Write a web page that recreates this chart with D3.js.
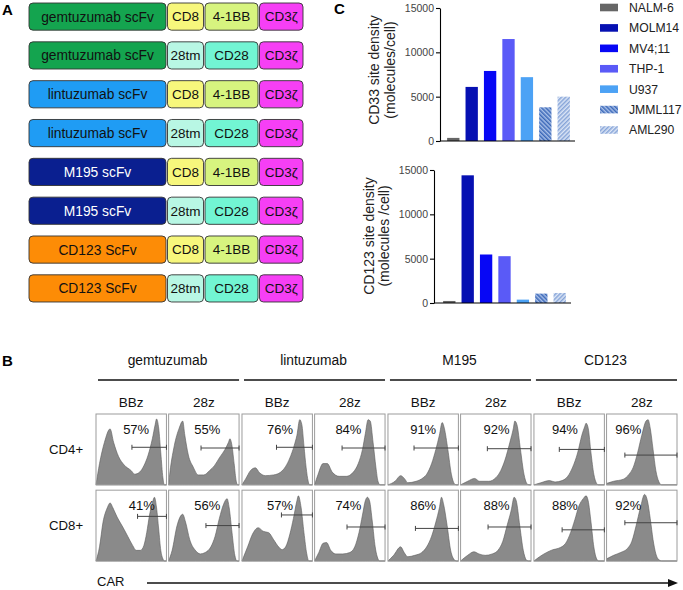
<!DOCTYPE html>
<html>
<head>
<meta charset="utf-8">
<script src="https://cdn.jsdelivr.net/npm/d3@7"></script>
<style>
    body { margin: 0; background: #fff; }
    svg { font-family: "Liberation Sans", Arial, Helvetica, sans-serif; }
</style>
</head>
<body>
<svg id="fig" width="683" height="590"></svg>
<script>
// ---- panel A: CAR constructs ----
const scfvNames = ["gemtuzumab scFv", "gemtuzumab scFv", "lintuzumab scFv", "lintuzumab scFv",
    "M195 scFv", "M195 scFv", "CD123 ScFv", "CD123 ScFv"];
const hingeNames = ["CD8", "28tm", "CD8", "28tm", "CD8", "28tm", "CD8", "28tm"];
const costimNames = ["4-1BB", "CD28", "4-1BB", "CD28", "4-1BB", "CD28", "4-1BB", "CD28"];
const signalNames = ["CD3ζ", "CD3ζ", "CD3ζ", "CD3ζ", "CD3ζ", "CD3ζ", "CD3ζ", "CD3ζ"];

// ---- panel C: site density ----
const cellLines = ["NALM-6", "MOLM14", "MV4;11", "THP-1", "U937", "JMML117", "AML290"];
const cd33Density = [350, 6100, 7900, 11500, 7200, 3800, 5000];
const cd123Density = [230, 14400, 5470, 5280, 380, 1060, 1130];
const densityTicks = [0, 5000, 10000, 15000];

// ---- panel B: CAR expression histograms ----
const antibodies = ["gemtuzumab", "lintuzumab", "M195", "CD123"];
const domains = ["BBz", "28z"];
const subsets = ["CD4+", "CD8+"];
const cd4Pct = [57, 55, 76, 84, 91, 92, 94, 96];
const cd8Pct = [41, 56, 57, 74, 86, 88, 88, 92];
// gate start (% of axis) and drawn height (fraction of panel)
const cd4Gate = [[51, 0.53], [46, 0.52], [49, 0.53], [39, 0.52], [37, 0.52], [38, 0.51], [36, 0.5], [26, 0.42]];
const cd8Gate = [[59, 0.63], [53, 0.5], [56, 0.65], [46, 0.48], [39, 0.46], [39, 0.48], [40, 0.44], [26, 0.54]];
const cd4LabelX = [57, 55, 54, 48, 50, 51, 44, 31];
const cd8LabelX = [65, 55, 54, 48, 50, 51, 44, 31];
// histogram outlines: [CAR position %, relative count]
const cd4Hist = [
    [[0,0],[5,0.3],[12,0.6],[20,0.79],[25,0.6],[32,0.4],[40,0.28],[50,0.2],[55,0.15],[62,0.18],[68,0.27],[74,0.42],[80,0.65],[84,0.85],[86,0.93],[89,0.8],[92,0.45],[95,0.1],[97,0],[100,0]],
    [[0,0],[1,0.1],[8,0.55],[15,0.8],[20,0.9],[23,0.7],[28,0.42],[35,0.25],[42,0.14],[50,0.14],[58,0.2],[65,0.27],[72,0.38],[80,0.5],[85,0.6],[87,0.65],[90,0.55],[93,0.3],[96,0.05],[98,0],[100,0]],
    [[0,0],[5,0.08],[12,0.2],[19,0.24],[25,0.17],[33,0.13],[45,0.14],[55,0.18],[62,0.26],[68,0.38],[74,0.55],[78,0.7],[82,0.92],[85,0.85],[88,0.55],[91,0.25],[94,0.05],[96,0],[100,0]],
    [[0,0],[5,0.15],[12,0.3],[18,0.3],[25,0.18],[35,0.12],[45,0.12],[55,0.18],[62,0.3],[68,0.5],[72,0.72],[76,0.92],[79,0.9],[83,0.6],[87,0.25],[90,0.05],[93,0],[100,0]],
    [[0,0],[10,0.05],[18,0.13],[24,0.08],[28,0.03],[40,0.05],[50,0.1],[55,0.15],[62,0.3],[68,0.5],[73,0.7],[77,0.88],[80,0.8],[85,0.5],[90,0.15],[94,0.02],[97,0],[100,0]],
    [[0,0],[10,0.05],[20,0.09],[27,0.05],[40,0.05],[50,0.1],[57,0.2],[63,0.35],[70,0.6],[75,0.8],[77,0.9],[80,0.85],[85,0.5],[90,0.15],[94,0.02],[97,0],[100,0]],
    [[0,0],[10,0.03],[22,0.06],[30,0.04],[40,0.06],[48,0.12],[55,0.25],[62,0.45],[68,0.7],[72,0.82],[74,0.87],[77,0.8],[81,0.45],[85,0.15],[89,0.02],[91,0],[100,0]],
    [[0,0.02],[10,0.05],[24,0.08],[32,0.15],[38,0.25],[44,0.45],[50,0.7],[56,0.9],[59,0.92],[62,0.8],[66,0.5],[70,0.2],[74,0.05],[78,0],[100,0]]
];
const cd8Hist = [
    [[0,0],[5,0.2],[10,0.55],[16,0.75],[20,0.82],[24,0.75],[30,0.62],[38,0.48],[45,0.35],[52,0.22],[57,0.15],[63,0.15],[68,0.22],[72,0.4],[76,0.65],[80,0.82],[83,0.9],[86,0.75],[89,0.45],[92,0.15],[95,0.03],[97,0],[100,0]],
    [[0,0],[5,0.15],[12,0.5],[20,0.66],[24,0.55],[30,0.3],[38,0.15],[45,0.1],[52,0.12],[60,0.2],[66,0.35],[72,0.6],[78,0.8],[83,0.88],[86,0.75],[90,0.4],[94,0.08],[97,0],[100,0]],
    [[0,0],[8,0.2],[15,0.38],[23,0.47],[30,0.42],[38,0.4],[45,0.3],[52,0.2],[57,0.16],[62,0.2],[68,0.38],[73,0.6],[78,0.85],[80,0.92],[84,0.75],[88,0.4],[92,0.1],[95,0],[100,0]],
    [[0,0],[6,0.12],[12,0.25],[17,0.26],[23,0.15],[30,0.1],[40,0.1],[50,0.12],[57,0.2],[63,0.4],[68,0.65],[72,0.85],[75,0.9],[78,0.85],[82,0.55],[86,0.2],[90,0.03],[92,0],[100,0]],
    [[0,0],[8,0.08],[18,0.2],[23,0.12],[28,0.06],[38,0.08],[48,0.12],[55,0.2],[62,0.35],[68,0.55],[73,0.75],[76,0.9],[79,0.8],[84,0.5],[89,0.15],[94,0.02],[97,0],[100,0]],
    [[0,0],[10,0.08],[19,0.13],[26,0.1],[35,0.08],[45,0.1],[53,0.15],[60,0.28],[66,0.5],[72,0.72],[76,0.9],[79,0.85],[84,0.5],[89,0.15],[93,0.02],[96,0],[100,0]],
    [[0,0],[8,0.06],[18,0.12],[27,0.16],[35,0.18],[45,0.25],[52,0.4],[58,0.58],[64,0.78],[70,0.88],[74,0.92],[77,0.85],[81,0.55],[85,0.2],[89,0.03],[92,0],[100,0]],
    [[0,0.03],[10,0.08],[20,0.12],[30,0.18],[36,0.28],[42,0.5],[48,0.75],[54,0.94],[58,0.85],[62,0.6],[66,0.3],[70,0.1],[74,0.02],[78,0],[100,0]]
];

const segColor = {
    "gemtuzumab scFv": "#14a44f", "lintuzumab scFv": "#1f9cf4", "M195 scFv": "#0a1f90",
    "CD123 ScFv": "#fd8c06", "CD8": "#f7f77c", "28tm": "#b8f7e4", "4-1BB": "#d7f47f",
    "CD28": "#72f5d3", "CD3ζ": "#f63ff5"
};
const barColor = ["#666666", "#0610b2", "#0707f5", "#5a5af7", "#4ca2f5", "url(#hatchJ)", "url(#hatchA)"];

const svg = d3.select("#fig");

// panel letters
svg.selectAll("text.letter")
    .data([["A", 2, 15], ["C", 334, 14], ["B", 2, 366]])
    .join("text")
    .attr("class", "letter")
    .attr("x", d => d[1]).attr("y", d => d[2])
    .attr("font-size", 15).attr("font-weight", "bold")
    .text(d => d[0]);

// ================= Panel A =================
const rowY = d3.scaleBand().domain(d3.range(scfvNames.length)).range([3, 302]).paddingInner(0.3);
const segX = [[29, 166], [167.5, 203.5], [205, 258], [259.5, 303]];

scfvNames.forEach((s, i) => {
    const names = [s, hingeNames[i], costimNames[i], signalNames[i]];
    const g = svg.append("g").attr("transform", `translate(0, ${rowY(i)})`);
    names.forEach((n, j) => {
        g.append("rect")
            .attr("x", segX[j][0]).attr("width", segX[j][1] - segX[j][0])
            .attr("y", 0).attr("height", rowY.bandwidth())
            .attr("rx", 4)
            .attr("fill", segColor[n])
            .attr("stroke", "#333").attr("stroke-width", 0.9);
        g.append("text")
            .attr("x", (segX[j][0] + segX[j][1]) / 2)
            .attr("y", rowY.bandwidth() / 2)
            .attr("dy", "0.36em")
            .attr("text-anchor", "middle")
            .attr("font-size", j === 0 ? 13.8 : 13.5)
            .attr("fill", n === "M195 scFv" ? "#fff" : "#111")
            .text(n);
    });
});

// ================= Panel C =================
const defs = svg.append("defs");
function hatch(id, bg, fg, angle) {
    const p = defs.append("pattern")
        .attr("id", id).attr("patternUnits", "userSpaceOnUse")
        .attr("width", 3).attr("height", 3)
        .attr("patternTransform", `rotate(${angle})`);
    p.append("rect").attr("width", 3).attr("height", 3).attr("fill", bg);
    p.append("line").attr("x1", 0.75).attr("x2", 0.75).attr("y1", 0).attr("y2", 3)
        .attr("stroke", fg).attr("stroke-width", 1.5);
}
hatch("hatchJ", "#a9c0e8", "#3b68b8", -45);
hatch("hatchA", "#dde6f6", "#86a4d8", 45);

function drawBars(values, cfg) {
    const y = d3.scaleLinear().domain([0, 15000]).range([cfg.y0, cfg.y1]);
    const x = d3.scaleBand().domain(cellLines).range(cfg.xr)
        .paddingInner(0.33).paddingOuter(0.17);
    const g = svg.append("g");

    g.selectAll("rect")
        .data(values)
        .join("rect")
        .attr("x", (d, i) => x(cellLines[i]))
        .attr("width", x.bandwidth())
        .attr("y", d => y(d))
        .attr("height", d => y(0) - y(d))
        .attr("fill", (d, i) => barColor[i]);

    const ax = g.append("g")
        .attr("transform", `translate(${cfg.axisX}, 0)`)
        .call(d3.axisLeft(y).tickValues(densityTicks).tickFormat(d3.format("d"))
            .tickSize(4).tickSizeOuter(0).tickPadding(2));
    ax.select(".domain").attr("stroke", "#000").attr("stroke-width", 1.1);
    ax.selectAll(".tick line").attr("stroke", "#000").attr("stroke-width", 1.1);
    ax.selectAll(".tick text").attr("font-size", 10.5).attr("fill", "#444")
        .attr("font-family", "Liberation Sans, Arial, sans-serif");

    g.append("line")
        .attr("x1", cfg.axisX).attr("x2", cfg.axisEnd)
        .attr("y1", y(0)).attr("y2", y(0))
        .attr("stroke", "#000").attr("stroke-width", 1.1);

    cfg.labels.forEach((t, k) => {
        g.append("text")
            .attr("transform", `translate(${cfg.labelX[k]}, ${cfg.labelY}) rotate(-90)`)
            .attr("text-anchor", "middle")
            .attr("dy", "0.36em")
            .attr("font-size", 14)
            .attr("fill", "#222")
            .text(t);
    });
}

drawBars(cd33Density, {
    y0: 141, y1: 8, xr: [444, 573], axisX: 440, axisEnd: 575,
    labels: ["CD33 site density", "(molecules/cell)"], labelX: [374, 390], labelY: 70
});
drawBars(cd123Density, {
    y0: 303, y1: 170, xr: [440, 569], axisX: 434, axisEnd: 571,
    labels: ["CD123 site density", "(molecules /cell)"], labelX: [369, 384], labelY: 236
});

// legend
const legY = d3.scalePoint().domain(cellLines).range([7.5, 130]);
const leg = svg.append("g").selectAll("g")
    .data(cellLines)
    .join("g")
    .attr("transform", d => `translate(600, ${legY(d)})`);
leg.append("rect")
    .attr("x", 0).attr("y", -3.8).attr("width", 18).attr("height", 7.6)
    .attr("fill", (d, i) => barColor[i]);
leg.append("text")
    .attr("x", 29).attr("dy", "0.36em")
    .attr("font-size", 12.2).attr("fill", "#222")
    .text(d => d);

// ================= Panel B =================
const grpX = d3.scaleBand().domain(antibodies).range([96, 677]).paddingInner(0.02);
const domX = d3.scaleBand().domain(domains).range([0, grpX.bandwidth()]).paddingInner(0.03);
const rowB = d3.scaleBand().domain(subsets).range([414, 561]).paddingInner(0.07);

const bg = svg.append("g");

// group headers
antibodies.forEach(a => {
    const x0 = grpX(a);
    bg.append("text")
        .attr("x", x0 + grpX.bandwidth() / 2).attr("y", 365)
        .attr("text-anchor", "middle").attr("font-size", 13.8).attr("fill", "#111")
        .text(a);
    bg.append("line")
        .attr("x1", x0 + 2).attr("x2", x0 + grpX.bandwidth())
        .attr("y1", 380).attr("y2", 380)
        .attr("stroke", "#111").attr("stroke-width", 1.4);
    domains.forEach(d => {
        bg.append("text")
            .attr("x", x0 + domX(d) + domX.bandwidth() / 2).attr("y", 407)
            .attr("text-anchor", "middle").attr("font-size", 13.5).attr("fill", "#111")
            .text(d);
    });
});

// row labels
subsets.forEach(s => {
    bg.append("text")
        .attr("x", 49).attr("y", rowB(s) + rowB.bandwidth() / 2)
        .attr("dy", "0.36em")
        .attr("font-size", 13.2).attr("fill", "#111")
        .text(s);
});

const hx = d3.scaleLinear().domain([0, 100]).range([0, domX.bandwidth()]);
const hy = d3.scaleLinear().domain([0, 1]).range([rowB.bandwidth(), 0]);
const area = d3.area()
    .x(d => hx(d[0])).y0(hy(0)).y1(d => hy(d[1]))
    .curve(d3.curveMonotoneX);

const histSets = { "CD4+": [cd4Hist, cd4Pct, cd4Gate, cd4LabelX], "CD8+": [cd8Hist, cd8Pct, cd8Gate, cd8LabelX] };

subsets.forEach(s => {
    const [hist, pct, gate, labX] = histSets[s];
    antibodies.forEach((a, ai) => {
        domains.forEach((d, di) => {
            const k = ai * 2 + di;
            const g = bg.append("g")
                .attr("transform", `translate(${grpX(a) + domX(d)}, ${rowB(s)})`);
            g.append("path")
                .datum(hist[k])
                .attr("d", area)
                .attr("fill", "#8a8a8a")
                .attr("stroke", "#5a5a5a").attr("stroke-width", 0.6);
            g.append("rect")
                .attr("width", domX.bandwidth()).attr("height", rowB.bandwidth())
                .attr("fill", "none").attr("stroke", "#9c9c9c").attr("stroke-width", 1);
            const gy = hy(gate[k][1]);
            const gx0 = hx(gate[k][0]), gx1 = hx(100);
            g.append("line")
                .attr("x1", gx0).attr("x2", gx1).attr("y1", gy).attr("y2", gy)
                .attr("stroke", "#444").attr("stroke-width", 1);
            [gx0, gx1].forEach(xx => {
                g.append("line")
                    .attr("x1", xx).attr("x2", xx).attr("y1", gy - 2.5).attr("y2", gy + 2.5)
                    .attr("stroke", "#444").attr("stroke-width", 1);
            });
            g.append("text")
                .attr("x", hx(labX[k])).attr("y", 20)
                .attr("text-anchor", "middle")
                .attr("font-size", 13).attr("fill", "#111")
                .text(pct[k] + "%");
        });
    });
});

// CAR axis arrow
bg.append("text")
    .attr("x", 97).attr("y", 586)
    .attr("font-size", 13).attr("fill", "#111")
    .text("CAR");
bg.append("line")
    .attr("x1", 147).attr("x2", 669).attr("y1", 583).attr("y2", 583)
    .attr("stroke", "#111").attr("stroke-width", 1.5);
bg.append("path")
    .attr("d", "M668,579L678,583L668,587Z")
    .attr("fill", "#111");
</script>
</body>
</html>
